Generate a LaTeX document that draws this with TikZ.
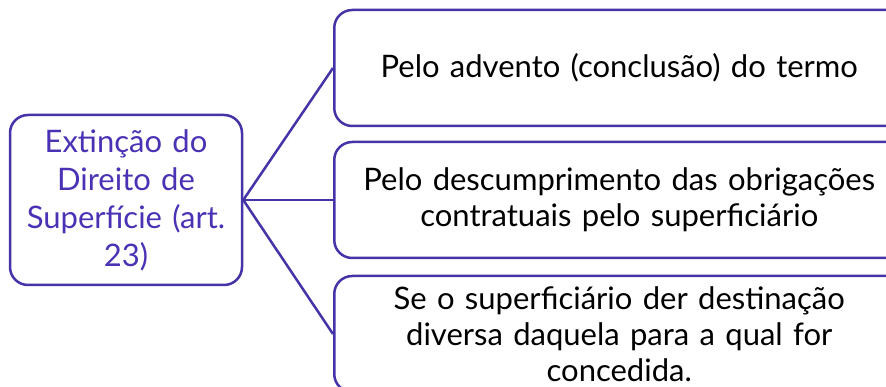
\documentclass[tikz,border=0pt]{standalone}
\usepackage{fontspec}
\setmainfont{Lato}
\usepackage{xcolor}
\definecolor{linepurple}{HTML}{4534A8}
\definecolor{textpurple}{HTML}{4B32B4}

\begin{document}
\begin{tikzpicture}[x=1pt, y=-1pt, line width=2.5pt,
    leftbox/.style={draw=linepurple, rounded corners=18pt, minimum width=232pt, minimum height=170pt,
      text width=225pt, align=center, text=textpurple, font=\fontsize{31}{38}\selectfont},
    rightbox/.style={draw=linepurple, rounded corners=18pt, anchor=west, minimum width=570pt,
      minimum height=116pt, text width=545pt, align=center, font=\fontsize{31}{36}\selectfont}]
    \useasboundingbox (0,0) rectangle (886,387);
    \clip (0,0) rectangle (886,387);
    \node[leftbox] (ext) at (126,200) {Extinção do\\Direito de\\Superfície (art.\\23)};
    \node[rightbox] (termo) at (333,68) {Pelo advento (conclusão) do termo};
    \node[rightbox] (descump) at (333,200) {Pelo descumprimento das obrigações\\contratuais pelo superficiário};
    \node[rightbox] (destino) at (333,334) {Se o superficiário der destinação\\diversa daquela para a qual for\\concedida.};
    \draw[linepurple] (ext.east) -- (termo.west);
    \draw[linepurple] (ext.east) -- (descump.west);
    \draw[linepurple] (ext.east) -- (destino.west);
\end{tikzpicture}
\end{document}
